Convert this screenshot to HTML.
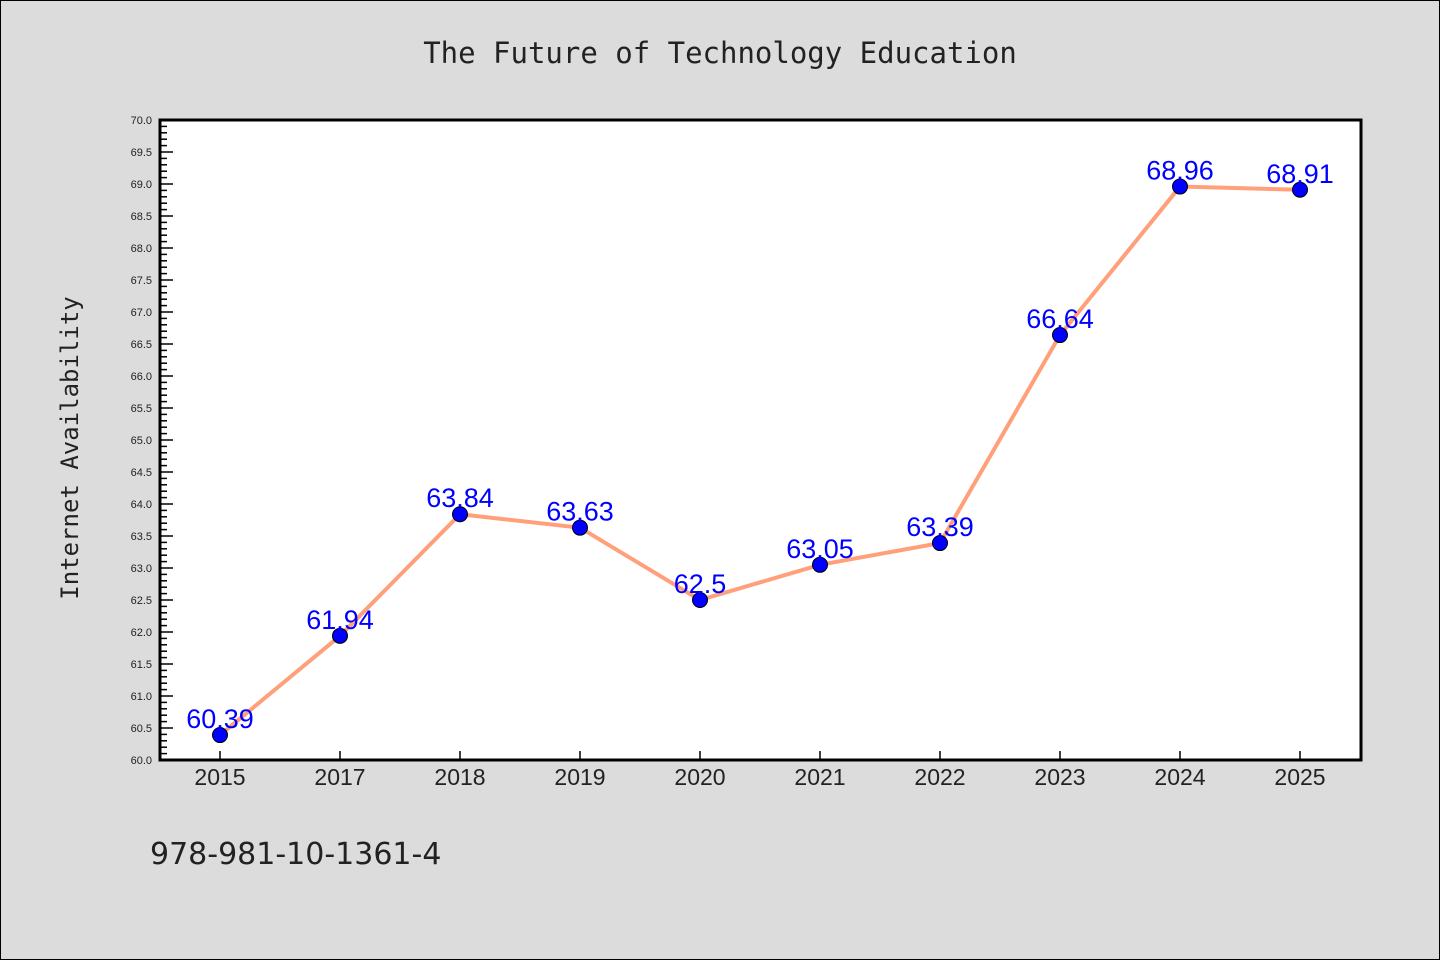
<!DOCTYPE html>
<html><head><meta charset="utf-8"><style>
html,body{margin:0;padding:0;background:#dcdcdc;}
svg{display:block;font-family:"Liberation Sans","DejaVu Sans",sans-serif;}
</style></head><body>
<svg width="1440" height="960" xmlns="http://www.w3.org/2000/svg">
<rect x="0.5" y="0.5" width="1439" height="959" fill="#dcdcdc" stroke="#000"/>
<text x="720" y="63" text-anchor="middle" font-size="29" font-family="DejaVu Sans Mono, Liberation Mono, monospace" fill="#222">The Future of Technology Education</text>
<rect x="160" y="120" width="1201" height="640" fill="#fff"/>
<g id="yaxis"></g>
<g id="xaxis"></g>
<g id="series"></g>
<rect x="160" y="120" width="1201" height="640" fill="none" stroke="#000" stroke-width="3"/>
<text x="78" y="448" text-anchor="middle" font-size="24" font-family="DejaVu Sans Mono, Liberation Mono, monospace" fill="#222" transform="rotate(-90 78 448)">Internet Availability</text>
<text x="150" y="864" font-size="30" font-family="DejaVu Sans, sans-serif" fill="#222">978-981-10-1361-4</text>
</svg>
<script>
const categories = ["2015","2017","2018","2019","2020","2021","2022","2023","2024","2025"];
const values = [60.39,61.94,63.84,63.63,62.5,63.05,63.39,66.64,68.96,68.91];
const valueLabels = ["60.39","61.94","63.84","63.63","62.5","63.05","63.39","66.64","68.96","68.91"];
const yMin = 60, yMax = 70;
const NS = "http://www.w3.org/2000/svg";
const X = i => 220 + i * 120;
const Y = v => 760 - (v - yMin) / (yMax - yMin) * 640;
function mk(tag, attrs, parent){const e=document.createElementNS(NS,tag);for(const k in attrs)e.setAttribute(k,attrs[k]);parent.appendChild(e);return e;}
const ya = document.getElementById('yaxis');
for (let k = 0; k <= 100; k++) {
  const v = yMin + k * 0.1, y = Y(v), major = k % 5 === 0;
  const t = mk('line', {x1:160, x2:160 + (major ? 13 : 7), y1:y, y2:y, stroke:'#000', 'stroke-width':1.5}, ya);
  
  
  if (major) {
    const l = mk('text', {x:152, y:y + 4, 'text-anchor':'end', 'font-size':11, fill:'#222'}, ya);
    l.textContent = v.toFixed(1);
    
    
  }
}
const xa = document.getElementById('xaxis');
categories.forEach((c, i) => {
  const t = mk('line', {x1:X(i), x2:X(i), y1:760, y2:751, stroke:'#000', 'stroke-width':1.5}, xa);
  
  
  const l = mk('text', {x:X(i), y:785, 'text-anchor':'middle', 'font-size':23, fill:'#222'}, xa);
  l.textContent = c;
  
  
});
const s = document.getElementById('series');
const pl = mk('polyline', {points: values.map((v,i)=>X(i)+','+Y(v)).join(' '), fill:'none', stroke:'#ffa07a', 'stroke-width':4}, s);


values.forEach((v, i) => {
  const c = mk('circle', {cx:X(i), cy:Y(v), r:7.5, fill:'#0000ff', stroke:'#000', 'stroke-width':1}, s);
  
  
  const l = mk('text', {x:X(i), y:Y(v) - 7, 'text-anchor':'middle', 'font-size':27, fill:'#0000ff'}, s);
  l.textContent = valueLabels[i];
  
  
});
</script>
</body></html>
